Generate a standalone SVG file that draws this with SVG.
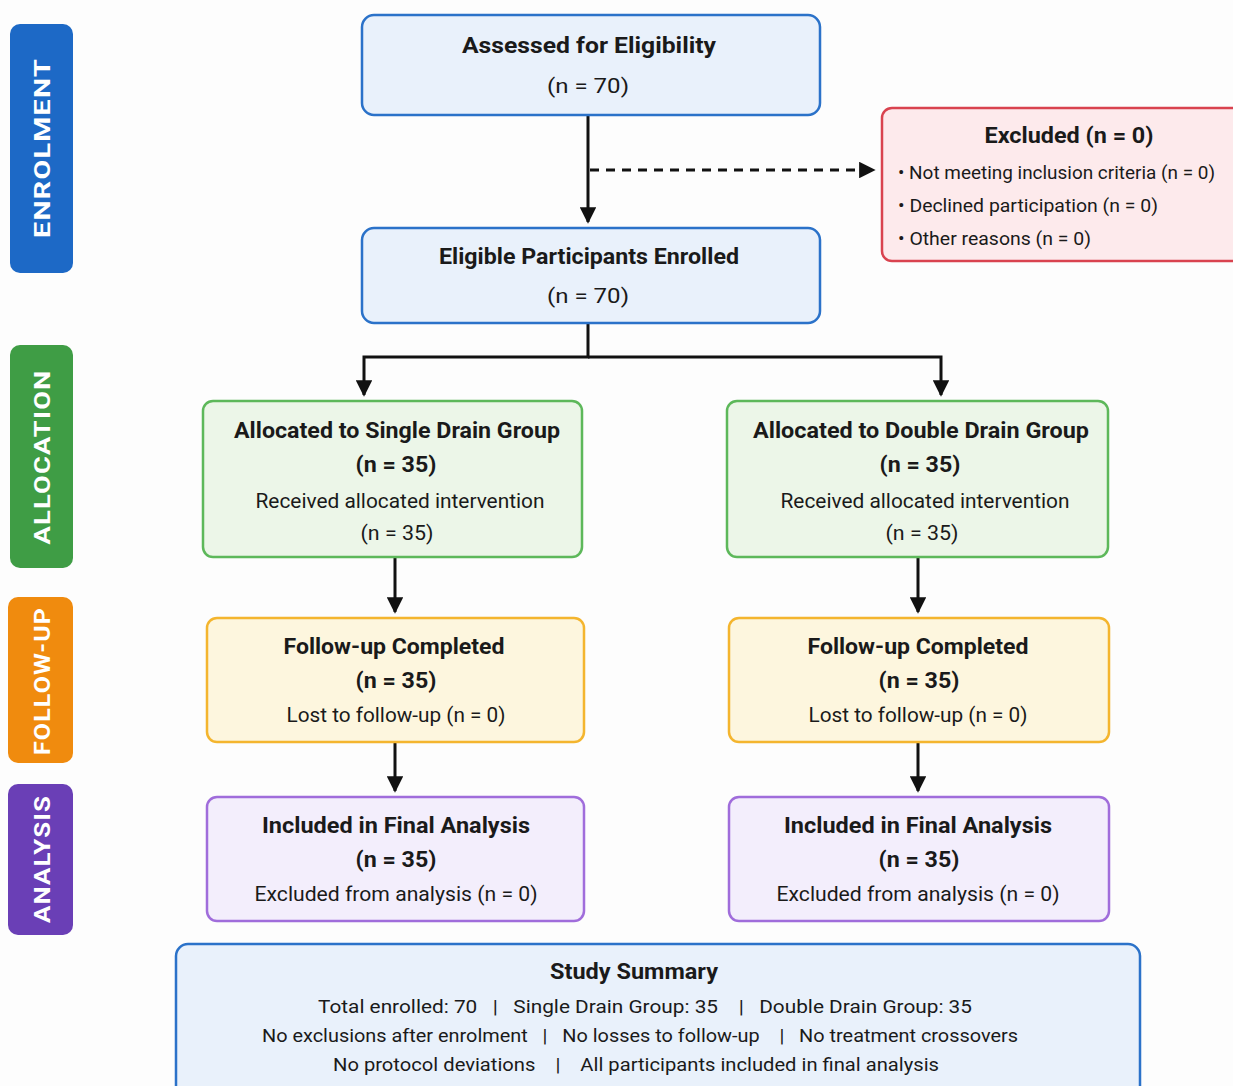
<svg xmlns="http://www.w3.org/2000/svg" width="1233" height="1086" viewBox="0 0 1233 1086">
<defs>
<style>
text{font-family:Roboto,"Liberation Sans",sans-serif;fill:#1a1a1a;text-anchor:middle}
.t{font-size:22px;font-weight:bold}
.b{font-size:20px}
.s{font-size:19px}
.pre{white-space:pre}
.side{font-size:22px;font-weight:bold;fill:#fff;letter-spacing:1px}
.blue{fill:#e9f1fb;stroke:#2b72c9;stroke-width:2.5}
.red{fill:#fdeaec;stroke:#d9434f;stroke-width:2.5}
.green{fill:#ecf6e8;stroke:#5db85a;stroke-width:2.5}
.yellow{fill:#fdf6de;stroke:#f4b52e;stroke-width:2.5}
.purple{fill:#f3eefc;stroke:#a06ddb;stroke-width:2.5}
.ln{fill:none;stroke:#111;stroke-width:3}
.dash{fill:none;stroke:#111;stroke-width:3;stroke-dasharray:9,7}
</style>
<marker id="ah" viewBox="0 0 10 10" refX="9" refY="5" markerWidth="5.5" markerHeight="5.5" orient="auto" markerUnits="strokeWidth">
<path d="M0,0 L10,5 L0,10 z" fill="#111"/>
</marker>
</defs>
<rect width="1233" height="1086" fill="#fdfdfd"/>

<g id="side-enrolment">
<rect x="10" y="24" width="63" height="249" rx="10" fill="#1d69c6"/>
<text class="side" transform="translate(50,148) rotate(-90)" textLength="180" lengthAdjust="spacingAndGlyphs">ENROLMENT</text>
</g>
<g id="side-allocation">
<rect x="10" y="345" width="63" height="223" rx="10" fill="#3f9d45"/>
<text class="side" transform="translate(50,457) rotate(-90)" textLength="175" lengthAdjust="spacingAndGlyphs">ALLOCATION</text>
</g>
<g id="side-followup">
<rect x="8" y="597" width="65" height="166" rx="10" fill="#f08b0e"/>
<text class="side" transform="translate(50,681) rotate(-90)" textLength="148" lengthAdjust="spacingAndGlyphs">FOLLOW-UP</text>
</g>
<g id="side-analysis">
<rect x="8" y="784" width="65" height="151" rx="10" fill="#6a3fb6"/>
<text class="side" transform="translate(50,859) rotate(-90)" textLength="128" lengthAdjust="spacingAndGlyphs">ANALYSIS</text>
</g>

<g id="connectors">
<line class="ln" x1="588" y1="115" x2="588" y2="222" marker-end="url(#ah)"/>
<line class="dash" x1="590" y1="170" x2="874" y2="170" marker-end="url(#ah)"/>
<polyline class="ln" points="588,323 588,357 364,357 364,395" marker-end="url(#ah)"/>
<polyline class="ln" points="588,357 941,357 941,395" marker-end="url(#ah)"/>
<line class="ln" x1="395" y1="557" x2="395" y2="612" marker-end="url(#ah)"/>
<line class="ln" x1="918" y1="557" x2="918" y2="612" marker-end="url(#ah)"/>
<line class="ln" x1="395" y1="742" x2="395" y2="791" marker-end="url(#ah)"/>
<line class="ln" x1="918" y1="742" x2="918" y2="791" marker-end="url(#ah)"/>
</g>

<g id="assessed">
<rect class="blue" x="362" y="15" width="458" height="100" rx="12"/>
<text class="t" x="589" y="53" textLength="254" lengthAdjust="spacingAndGlyphs">Assessed for Eligibility</text>
<text class="b" x="588" y="93" textLength="82" lengthAdjust="spacingAndGlyphs">(n = 70)</text>
</g>

<g id="excluded">
<rect class="red" x="882" y="108" width="360" height="153" rx="10"/>
<text class="t" x="1069" y="143" textLength="169" lengthAdjust="spacingAndGlyphs">Excluded (n = 0)</text>
<text class="s" x="898" y="179" style="text-anchor:start" textLength="317" lengthAdjust="spacingAndGlyphs">• Not meeting inclusion criteria (n = 0)</text>
<text class="s" x="898" y="212" style="text-anchor:start" textLength="260" lengthAdjust="spacingAndGlyphs">• Declined participation (n = 0)</text>
<text class="s" x="898" y="245" style="text-anchor:start" textLength="193" lengthAdjust="spacingAndGlyphs">• Other reasons (n = 0)</text>
</g>

<g id="enrolled">
<rect class="blue" x="362" y="228" width="458" height="95" rx="12"/>
<text class="t" x="589" y="264" textLength="300" lengthAdjust="spacingAndGlyphs">Eligible Participants Enrolled</text>
<text class="b" x="588" y="303" textLength="82" lengthAdjust="spacingAndGlyphs">(n = 70)</text>
</g>

<g id="alloc-single">
<rect class="green" x="203" y="401" width="379" height="156" rx="10"/>
<text class="t" x="397" y="438" textLength="326" lengthAdjust="spacingAndGlyphs">Allocated to Single Drain Group</text>
<text class="t" x="396" y="472" textLength="81" lengthAdjust="spacingAndGlyphs">(n = 35)</text>
<text class="b" x="400" y="508" textLength="289" lengthAdjust="spacingAndGlyphs">Received allocated intervention</text>
<text class="b" x="397" y="540" textLength="73" lengthAdjust="spacingAndGlyphs">(n = 35)</text>
</g>

<g id="alloc-double">
<rect class="green" x="727" y="401" width="381" height="156" rx="10"/>
<text class="t" x="921" y="438" textLength="336" lengthAdjust="spacingAndGlyphs">Allocated to Double Drain Group</text>
<text class="t" x="920" y="472" textLength="81" lengthAdjust="spacingAndGlyphs">(n = 35)</text>
<text class="b" x="925" y="508" textLength="289" lengthAdjust="spacingAndGlyphs">Received allocated intervention</text>
<text class="b" x="922" y="540" textLength="73" lengthAdjust="spacingAndGlyphs">(n = 35)</text>
</g>

<g id="follow-single">
<rect class="yellow" x="207" y="618" width="377" height="124" rx="10"/>
<text class="t" x="394" y="654" textLength="221" lengthAdjust="spacingAndGlyphs">Follow-up Completed</text>
<text class="t" x="396" y="688" textLength="81" lengthAdjust="spacingAndGlyphs">(n = 35)</text>
<text class="b" x="396" y="722" textLength="219" lengthAdjust="spacingAndGlyphs">Lost to follow-up (n = 0)</text>
</g>

<g id="follow-double">
<rect class="yellow" x="729" y="618" width="380" height="124" rx="10"/>
<text class="t" x="918" y="654" textLength="221" lengthAdjust="spacingAndGlyphs">Follow-up Completed</text>
<text class="t" x="919" y="688" textLength="81" lengthAdjust="spacingAndGlyphs">(n = 35)</text>
<text class="b" x="918" y="722" textLength="219" lengthAdjust="spacingAndGlyphs">Lost to follow-up (n = 0)</text>
</g>

<g id="analysis-single">
<rect class="purple" x="207" y="797" width="377" height="124" rx="10"/>
<text class="t" x="396" y="833" textLength="268" lengthAdjust="spacingAndGlyphs">Included in Final Analysis</text>
<text class="t" x="396" y="867" textLength="81" lengthAdjust="spacingAndGlyphs">(n = 35)</text>
<text class="b" x="396" y="901" textLength="283" lengthAdjust="spacingAndGlyphs">Excluded from analysis (n = 0)</text>
</g>

<g id="analysis-double">
<rect class="purple" x="729" y="797" width="380" height="124" rx="10"/>
<text class="t" x="918" y="833" textLength="268" lengthAdjust="spacingAndGlyphs">Included in Final Analysis</text>
<text class="t" x="919" y="867" textLength="81" lengthAdjust="spacingAndGlyphs">(n = 35)</text>
<text class="b" x="918" y="901" textLength="283" lengthAdjust="spacingAndGlyphs">Excluded from analysis (n = 0)</text>
</g>

<g id="summary">
<rect class="blue" x="176" y="944" width="964" height="160" rx="12"/>
<text class="t" x="634" y="979" textLength="168" lengthAdjust="spacingAndGlyphs">Study Summary</text>
<text class="s pre" x="645" y="1013" textLength="654" lengthAdjust="spacingAndGlyphs">Total enrolled: 70   |   Single Drain Group: 35    |   Double Drain Group: 35</text>
<text class="s pre" x="640" y="1042" textLength="756" lengthAdjust="spacingAndGlyphs">No exclusions after enrolment   |   No losses to follow-up    |   No treatment crossovers</text>
<text class="s pre" x="636" y="1071" textLength="606" lengthAdjust="spacingAndGlyphs">No protocol deviations    |    All participants included in final analysis</text>
</g>
</svg>
